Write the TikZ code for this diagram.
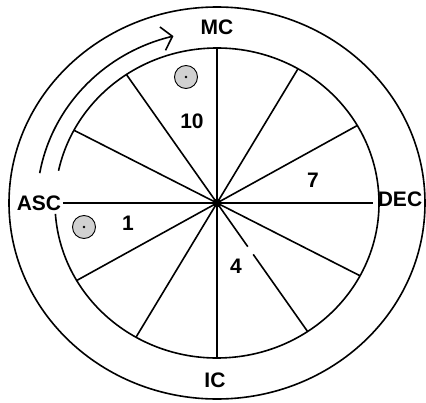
\documentclass[tikz,border=0pt]{standalone}
\usepackage{fontspec}
\setmainfont{Liberation Sans}
\usetikzlibrary{arrows.meta,calc}

\begin{document}
\begin{tikzpicture}[x=1pt, y=1pt, line width=1.6pt,
    label/.style={font=\fontsize{21}{24}\selectfont\bfseries, inner sep=0pt},
    planet/.style={circle, draw, line width=0.9pt, fill=black!18, minimum size=23pt, inner sep=0pt}]
            \useasboundingbox (-217,-199) rectangle (209,203);

            \coordinate (O) at (0, 0);
            \coordinate (T) at (0, 155);
            \coordinate (B) at (0, -155);
            \coordinate (L) at (-154, 0);
            \coordinate (R) at (156, 0);
            \coordinate (S) at (-56:162 and 155);

            % rings
            \draw (O) ellipse[x radius=208, y radius=196];
            \draw (-176:162 and 155) arc[start angle=-176, end angle=168, x radius=162, y radius=155];

            % cusps
            \draw (T) -- (B);
            \draw (L) -- (R);
            \foreach \a in {30, 60, 124, 152, 210, 240, 332}
                \draw (O) -- (\a:162 and 155);
            \draw (O) -- ($(O)!0.34!(S)$) ($(O)!0.40!(S)$) -- (S);
            \fill (O) circle[radius=4.5];

            % direction of the houses
            \draw[-{Straight Barb[length=10pt, width=24pt]}] (170:180 and 172) arc[start angle=170, end angle=104, x radius=180, y radius=172];

            \node[label] (mc) at (0, 176) {MC};
            \node[label] (ic) at (-2, -177) {IC};
            \node[label] (asc) at (-178, 0) {ASC};
            \node[label] (dec) at (183, 4) {DEC};

            \node[label] (h10) at (-25, 82) {10};
            \node[label] (h7) at (96, 23) {7};
            \node[label] (h1) at (-89, -20) {1};
            \node[label] (h4) at (19, -63) {4};

            \node[planet] (p1) at (-31, 126) {};
            \node[planet] (p2) at (-133, -24) {};
            \fill (p1.center) circle[radius=1.3];
            \fill (p2.center) circle[radius=1.3];
        \end{tikzpicture}
\end{document}
